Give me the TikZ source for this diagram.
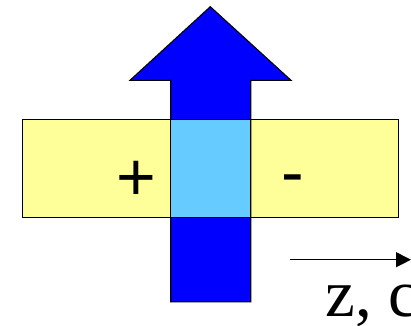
\documentclass[tikz,border=0pt]{standalone}
\usepackage{fontspec}
\setmainfont{Liberation Serif}
\newfontfamily\arialfont{Liberation Sans}
\usetikzlibrary{arrows.meta}
\definecolor{padyellow}{RGB}{255,255,153}
\definecolor{gateblue}{RGB}{0,0,255}
\definecolor{midblue}{RGB}{102,204,255}
\tikzset{
  outline/.style={draw=black, line width=1.1pt, line join=miter},
  signlabel/.style={inner sep=0pt, anchor=base, font=\arialfont\fontsize{68}{68}\selectfont},
}
\begin{document}
\begin{tikzpicture}[x=1pt,y=-1pt]
\useasboundingbox (0,0) rectangle (411,325);
% yellow strip
\draw[outline, fill=padyellow] (22.7,119.3) rectangle (398.7,217.3);
% big blue arrow
\draw[outline, fill=gateblue] (210.3,6.7) -- (291,80.3) -- (250.7,80.3) -- (250.7,301.7)
  -- (170.7,301.7) -- (170.7,80.3) -- (130,80.3) -- cycle;
% overlap square
\draw[outline, fill=midblue] (170.7,119.3) rectangle (250.7,217.3);
% signs
\node[signlabel] (plus) at (136,200.5) {+};
\node[signlabel] (minus) at (293,195.6) {-};
% axis arrow
\coordinate (axstart) at (290,259.7);
\coordinate (axend) at (411,259.7);
\draw[line width=1.1pt, -{Triangle[length=15pt,width=15pt]}] (axstart) -- (axend);
\node[inner sep=0pt, anchor=base west, font=\fontsize{67}{67}\selectfont] (axlabel) at (325.5,316.7) {z, c};
\end{tikzpicture}
\end{document}
